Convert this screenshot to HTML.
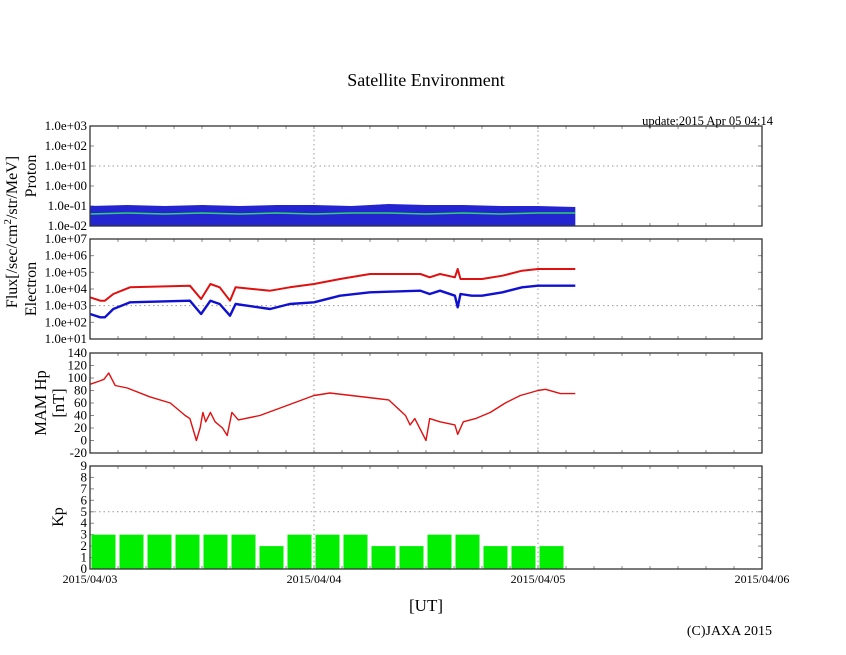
<!DOCTYPE html>
<html><head><meta charset="utf-8"><style>
body{margin:0;background:#fff;width:846px;height:655px;overflow:hidden}
svg{display:block;font-family:"Liberation Serif",serif}
</style></head><body>
<svg id="c" width="846" height="655"></svg>
<script>
// ---- data (hours since 2015/04/03 00:00 UT) ----
const dateTicks = ["2015/04/03","2015/04/04","2015/04/05","2015/04/06"];
const protonTicks = ["1.0e-02","1.0e-01","1.0e+00","1.0e+01","1.0e+02","1.0e+03"];
const electronTicks = ["1.0e+01","1.0e+02","1.0e+03","1.0e+04","1.0e+05","1.0e+06","1.0e+07"];
const mamTicks = [-20,0,20,40,60,80,100,120,140];
const kpTicks = [0,1,2,3,4,5,6,7,8,9];
const kpValues = [3,3,3,3,3,3,2,3,3,3,2,2,3,3,2,2,2];
const protonHours = [0,4,8,12,16,20,24,28,32,36,40,44,48,52];
const protonBlueTop = [-1.0,-0.95,-1.0,-0.95,-1.0,-0.95,-0.95,-1.0,-0.9,-0.95,-0.95,-1.0,-1.0,-1.05];
const protonGreen = [-1.4,-1.35,-1.4,-1.35,-1.4,-1.35,-1.4,-1.35,-1.35,-1.4,-1.35,-1.4,-1.35,-1.35];
const elecHours = [0,1.1,1.6,2.5,4.3,10.7,11.9,12.9,13.9,15,15.6,19.3,21.4,24,26.8,30,35.4,36.4,37.5,39.1,39.4,39.7,40.9,42,44.2,46.3,48,52];
const elecRed   = [3.5,3.3,3.3,3.7,4.1,4.2,3.4,4.3,4.1,3.3,4.1,3.9,4.1,4.3,4.6,4.9,4.9,4.7,4.9,4.7,5.2,4.6,4.6,4.6,4.8,5.1,5.2,5.2];
const elecBlue  = [2.5,2.3,2.3,2.8,3.2,3.3,2.5,3.3,3.1,2.4,3.1,2.8,3.1,3.2,3.6,3.8,3.9,3.7,3.9,3.6,2.9,3.7,3.6,3.6,3.8,4.1,4.2,4.2];
const mamHours = [0,1,1.5,2,2.7,4,6.4,8.6,10.2,10.7,11,11.4,11.8,12.1,12.4,12.9,13.4,14.2,14.7,15.2,15.9,18.2,24,25.7,28,32,33.8,34.3,34.8,36,36.4,37.5,39.1,39.4,40,41.3,42.9,44.5,46.1,48,48.8,50.4,52];
const mamValues = [90,95,98,108,88,84,70,60,40,35,20,0,20,45,30,45,30,20,8,45,33,40,72,76,72,65,40,25,35,0,35,30,25,10,30,35,45,60,72,80,82,75,75];

const NS="http://www.w3.org/2000/svg", svg=document.getElementById('c');
function el(t,a,p){const e=document.createElementNS(NS,t);for(const k in a)e.setAttribute(k,a[k]);(p||svg).appendChild(e);return e;}
function txt(s,a,p){const e=el('text',a,p);e.textContent=s;return e;}
const X0=90,X1=762,H=72;
const xs=h=>X0+(X1-X0)*h/H;
const panels={p:[126,226,-2,3],e:[239,339,1,7],m:[353,453,-20,140],k:[466,569,0,9]};
function ys(k,v){const[t,b,lo,hi]=panels[k];return b-(v-lo)/(hi-lo)*(b-t);}

function frame(k,name,ticks,vals,grids){
  const[t,b]=panels[k];
  const g=el('g',{});  
  [24,48].forEach(h=>el('line',{x1:xs(h),x2:xs(h),y1:t,y2:b,stroke:'#999','stroke-dasharray':'1.5,3'},g));
  grids.forEach(v=>el('line',{x1:X0,x2:X1,y1:ys(k,v),y2:ys(k,v),stroke:'#999','stroke-dasharray':'1.5,3'},g));
  for(let h=3;h<72;h+=3){el('line',{x1:xs(h),x2:xs(h),y1:t,y2:t+3,stroke:'#888'},g);el('line',{x1:xs(h),x2:xs(h),y1:b,y2:b-3,stroke:'#888'},g);}
  vals.forEach((v,i)=>{const y=ys(k,v);
    el('line',{x1:X0,x2:X0+4,y1:y,y2:y,stroke:'#888'},g);el('line',{x1:X1,x2:X1-4,y1:y,y2:y,stroke:'#888'},g);
    const lt=txt(ticks[i],{x:X0-3,y:y+4,'text-anchor':'end','font-size':13},g);
     });
  return g;
}
function path(k,hs,vs,color,name,w){
  const d=hs.map((h,i)=>(i?'L':'M')+xs(h).toFixed(1)+','+ys(k,vs[i]).toFixed(1)).join('');
  const p=el('path',{d,fill:'none',stroke:color,'stroke-width':w||1.6,'stroke-linejoin':'round'});
   
}
// proton
frame('p','proton-panel',protonTicks,[-2,-1,0,1,2,3],[1]);
{const d='M'+xs(0)+','+ys('p',-2)+protonHours.map((h,i)=>'L'+xs(h).toFixed(1)+','+ys('p',protonBlueTop[i]).toFixed(1)).join('')+'L'+xs(52)+','+ys('p',-2)+'Z';
 const b=el('path',{d,fill:'#2424d0'});  }
path('p',protonHours,protonGreen,'#30d070','proton-green-series',1.5);
// electron
frame('e','electron-panel',electronTicks,[1,2,3,4,5,6,7],[3]);
path('e',elecHours,elecRed,'#e01010','electron-red-series',2);
path('e',elecHours,elecBlue,'#1010d0','electron-blue-series',2.4);
// MAM
frame('m','mam-panel',mamTicks.map(String),mamTicks,[]);
path('m',mamHours,mamValues,'#e01010','mam-hp-series',1.4);
// Kp
frame('k','kp-panel',kpTicks.map(String),kpTicks,[5]);
kpValues.forEach((v,i)=>{const x=xs(i*3)+1.5,w=xs(3)-X0-4;
  const r=el('rect',{x,y:ys('k',v),width:w,height:ys('k',0)-ys('k',v),fill:'#00ee00'});
   });
Object.keys(panels).forEach(k=>{const[t,b]=panels[k];el('rect',{x:X0,y:t,width:X1-X0,height:b-t,fill:'none',stroke:'#333','stroke-width':1.3});});
dateTicks.forEach((s,i)=>{const t=txt(s,{x:xs(i*24),y:583,'text-anchor':'middle','font-size':12});
   });
function label(s,a,name){const t=txt(s,a);return t;}
label('Satellite Environment',{x:426,y:86,'text-anchor':'middle','font-size':18},'chart-title');
label('update:2015 Apr 05 04:14',{x:773,y:125,'text-anchor':'end','font-size':12.5},'update-time');
label('[UT]',{x:426,y:611,'text-anchor':'middle','font-size':17},'x-axis-title');
label('(C)JAXA 2015',{x:772,y:635,'text-anchor':'end','font-size':14},'copyright');
const f=label('',{transform:'translate(17,232) rotate(-90)','text-anchor':'middle','font-size':16},'flux-axis-title');
f.innerHTML='Flux[/sec/cm<tspan dy="-6" font-size="11">2</tspan><tspan dy="6">/str/MeV]</tspan>';
label('Proton',{transform:'translate(36,176) rotate(-90)','text-anchor':'middle','font-size':16},'proton-axis-title');
label('Electron',{transform:'translate(36,289) rotate(-90)','text-anchor':'middle','font-size':16},'electron-axis-title');
label('MAM Hp',{transform:'translate(46,403) rotate(-90)','text-anchor':'middle','font-size':16.5},'mam-axis-title');
label('[nT]',{transform:'translate(64,403) rotate(-90)','text-anchor':'middle','font-size':16.5},'mam-unit');
label('Kp',{transform:'translate(63,517) rotate(-90)','text-anchor':'middle','font-size':16},'kp-axis-title');
</script>
</body></html>
